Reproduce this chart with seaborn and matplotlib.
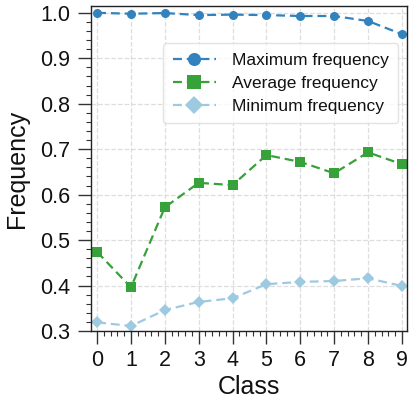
import matplotlib
matplotlib.use("Agg")
import matplotlib.pyplot as plt
import seaborn as sns
import pandas as pd
from matplotlib.ticker import MultipleLocator, AutoMinorLocator

classes = list(range(10))
max_freq = [1.000, 0.998, 0.9995, 0.995, 0.996, 0.995, 0.993, 0.993, 0.982, 0.953]
avg_freq = [0.474, 0.396, 0.572, 0.626, 0.621, 0.687, 0.672, 0.647, 0.693, 0.667]
min_freq = [0.319, 0.311, 0.346, 0.364, 0.372, 0.403, 0.408, 0.410, 0.416, 0.399]
series_names = ["Maximum frequency", "Average frequency", "Minimum frequency"]
colors = ["#3182bd", "#37a13a", "#9ecae1"]
markers = ["o", "s", "D"]

sns.set_theme(style="ticks")
plt.rcParams['font.family'] = ['Liberation Sans', 'DejaVu Sans']
plt.rcParams['text.color'] = '#111111'
plt.rcParams['axes.labelcolor'] = '#111111'
plt.rcParams['xtick.color'] = '#333333'
plt.rcParams['ytick.color'] = '#333333'
plt.rcParams['xtick.labelcolor'] = '#111111'
plt.rcParams['ytick.labelcolor'] = '#111111'

fig = plt.figure(figsize=(4.09, 4.0), dpi=100)
ax = fig.add_axes([0.2225, 0.1725, 0.7725, 0.8125])

for name, vals, c, m in zip(series_names, [max_freq, avg_freq, min_freq], colors, markers):
    df = pd.DataFrame({"Class": classes, "Frequency": vals})
    ms = 6.5 if m != "D" else 6
    sns.lineplot(data=df, x="Class", y="Frequency", ax=ax, color=c, marker=m,
                 markersize=ms, markeredgewidth=0, linestyle="--", linewidth=1.6,
                 label=name, dashes=False)
    ax.lines[-1].set_dashes([4, 2.2])

ax.set_xlim(-0.18, 9.15)
ax.set_ylim(0.3, 1.015)
ax.xaxis.set_major_locator(MultipleLocator(1))
ax.xaxis.set_minor_locator(AutoMinorLocator(5))
ax.yaxis.set_major_locator(MultipleLocator(0.1))
ax.yaxis.set_minor_locator(AutoMinorLocator(5))
ax.tick_params(axis="both", which="major", direction="out", length=9.5, width=1.0,
               labelsize=15.5)
ax.tick_params(axis="y", which="major", pad=5.5)
ax.tick_params(axis="x", which="major", pad=4)
ax.tick_params(axis="both", which="minor", direction="out", length=3.5, width=0.8)
ax.grid(True, which="major", linestyle="--", color="#dddddd", linewidth=0.9)
ax.set_axisbelow(True)
for s in ax.spines.values():
    s.set_visible(True)
    s.set_color("#222222")
    s.set_linewidth(1.0)

ax.set_xlabel("Class", fontsize=18, labelpad=3)
ax.set_ylabel("Frequency", fontsize=18, labelpad=8)

leg = ax.legend(loc="upper left", bbox_to_anchor=(0.228, 0.886), fontsize=12.5,
                markerscale=1.45, frameon=True, fancybox=True, framealpha=0.8,
                edgecolor="#dddddd", handlelength=2.5, borderpad=0.55,
                labelspacing=0.45, handletextpad=0.9, borderaxespad=0)
leg.get_frame().set_linewidth(1.0)

fig.savefig("out.png", dpi=100)
